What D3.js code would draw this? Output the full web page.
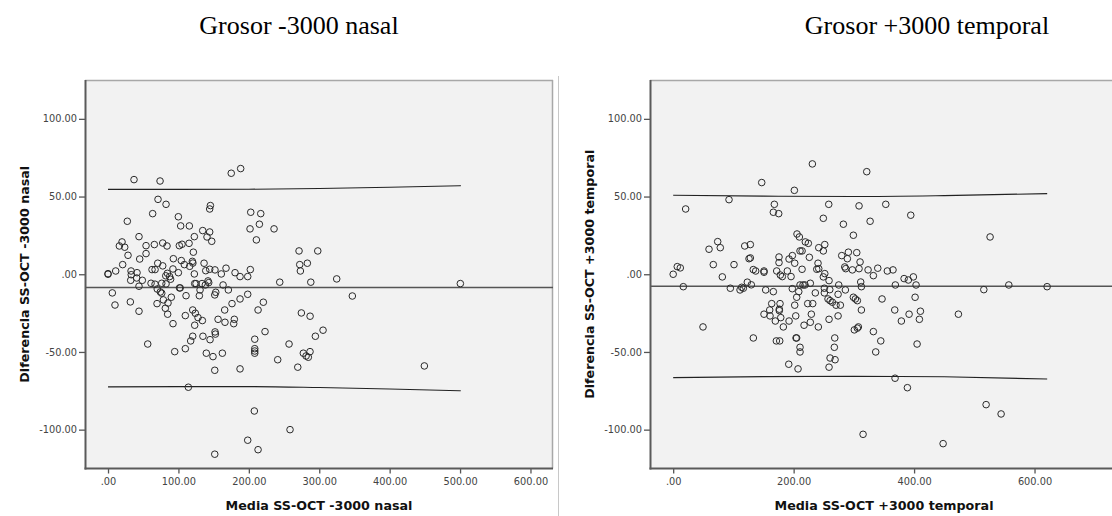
<!DOCTYPE html>
<html><head><meta charset="utf-8">
<script src="https://cdn.jsdelivr.net/npm/d3@7"></script>
<style>body{margin:0;background:#fff}svg{display:block}</style>
</head><body>
<svg id="c" width="1112" height="516"></svg>
<script>
// ---------- DATA ----------
const panelTitles = ["Grosor -3000 nasal", "Grosor +3000 temporal"];
const xAxisTitles = ["Media SS-OCT -3000 nasal", "Media SS-OCT +3000 temporal"];
const yAxisTitles = ["Diferencia SS-OCT -3000 nasal", "Diferencia SS-OCT +3000 temporal"];

const yTicks = [-100, -50, 0, 50, 100];
const yTickLabels = ["-100.00", "-50.00", ".00", "50.00", "100.00"];
const xTicksNasal = [0, 100, 200, 300, 400, 500, 600];
const xTickLabelsNasal = [".00", "100.00", "200.00", "300.00", "400.00", "500.00", "600.00"];
const xTicksTemporal = [0, 200, 400, 600];
const xTickLabelsTemporal = [".00", "200.00", "400.00", "600.00"];

// Nasal: [media, diferencia]
const nasalPoints = [
[36.9,60.9],[73.9,60],[175,65],[188.4,68],[71,48.2],[82.4,45],[63.4,39],[99.9,37],[145.4,44.2],[144.4,42],
[202.7,39.9],[216.9,39],[27.4,34.1],[103.2,31.1],[115.5,31.1],[215,32.2],[201.7,29.2],[235.8,29.2],[134.5,28.1],[144.4,27.2],
[140.6,24],[147.3,21.2],[210.7,22.1],[44,24.2],[122.6,24.2],[19.9,20.8],[16.1,18.2],[23.7,17.4],[54,18.4],[65.8,19.1],
[77.7,20.1],[83.8,18.2],[101.3,18.4],[105.1,19.3],[115.1,19.9],[28.4,12.2],[54,13.3],[121.2,14.2],[45,9.8],[92.8,10],
[104.1,8.8],[119.8,8.3],[120.5,7.2],[20.8,6.2],[70.6,7.1],[77.7,5.4],[108.4,6.2],[116,5.1],[136.4,7.1],[271.3,15],
[272.3,6.2],[283.1,7.1],[273.2,2.1],[202.1,3],[62.5,3],[66.8,3],[0,0.4],[0,0],[10.9,2.1],[32.7,2.1],
[41.2,1],[33,-0.3],[84.3,0.6],[99.9,1],[122.6,0.2],[138.8,2.3],[144.4,3.2],[151.9,2.8],[160.9,0.2],[167.6,3.9],
[180.4,1],[187.5,-1.5],[198.4,-1.5],[92.2,3.4],[297.9,15],[82,-1],
[32.2,-3.9],[44,-7.7],[48.7,-3.9],[40.7,-2.4],[6.1,-12],[9.9,-19.8],[31.7,-17.8],[44,-23.8],[61.1,-5.8],[66.8,-6.4],
[69.9,-9.5],[74.3,-11.4],[76.3,-5.8],[82.4,-6.2],[69.6,-18.9],[76.3,-12.2],[78.6,-16.5],[85.2,-18.5],[81.4,-21.9],[84.7,-25.7],
[89.9,-14.8],[92.3,-31.8],[87.5,-1.5],[88.9,-3.2],[101.5,-8.8],[102.5,-8.8],[110.8,-13.8],[109.8,-26.6],[94.7,-49.8],[109.8,-47.9],
[56.4,-44.9],[117.4,-42.9],[120.3,-39.9],[123.1,-32.8],[120.3,-23],[124,-25.1],[127.8,-27.9],[134,-29.8],[134.8,-39.9],[123.1,-6],
[125,-6],[130.7,-10.1],[129.7,-13.8],[133.5,-6],[138.2,-6.9],[142,-4.3],[143,-5.4],[151.6,-13.3],[153,-11.6],[144.9,-42.1],
[152,-37.1],[152.5,-38.5],[156.3,-29],[139.6,-50.8],[149.1,-53],[162.4,-50.8],[151.6,-61.8],[165.7,-23],[166.1,-30.9],[163.4,-6.9],
[170.9,-10.1],[176.1,-18.9],[179.4,-29],[178.5,-31.8],[187.5,-15.9],[187.5,-60.9],[198.4,-12.9],[114.1,-72.7],[208.4,-41.8],[208.4,-47.9],
[208.4,-49.4],[208.4,-50.8],[213.1,-23],[220.6,-18],[223,-36.9],[207.8,-88],[198.4,-106.8],[213.1,-112.9],[151.6,-115.8],[258.5,-100],
[243.9,-5.1],[241,-55],[257.1,-44.9],[269.5,-59.8],[274.6,-24.9],[287,-27],[277.4,-50.8],[281.3,-52.6],[284.5,-53.4],[286.9,-49.8],
[288,-5.1],[324.8,-3],[500.4,-6],[347,-14],[294.5,-39.9],[305.4,-36],[449.3,-59]
];
const nasalMean = -8.6;
const nasalFitX = [0, 100, 200, 300, 400, 501];
const nasalUpper = [54.6, 54.6, 54.7, 55.2, 56.0, 57.0];
const nasalLower = [-72.5, -72.3, -72.3, -72.9, -73.8, -75.0];

// Temporal: [media, diferencia]
const temporalPoints = [
[231.1,71],[321.4,66],[147,59],[201.2,54],[92.7,48],[20.7,42],[168,45],[166.3,39.9],[175.2,39],[258.3,45],
[308.6,44],[249.3,36],[282.6,32.2],[299.2,25.1],[327,34.1],[205.6,25.9],[209.5,24],[219.4,20.8],[224.4,19.9],[251.7,19.1],
[241.7,17.1],[249.3,15],[210.6,15],[214,15],[73.9,21],[59.5,16.1],[78.2,17.1],[118.8,18.2],[128.1,19.1],[125.9,10],
[128.1,10.5],[66.6,6.2],[101,6.2],[0,0],[6.8,4.9],[11.8,4.1],[81.6,-1.7],[133,3],[137,2.1],[150.8,2.1],
[150.8,1.3],[175.7,11.1],[175.7,7.5],[192.4,9.8],[197.9,12],[201.8,7.1],[214,3.2],[226.1,10.9],[171.9,2.1],[177.9,-0.5],
[181.2,-1.5],[189.5,2.1],[195.7,-1.5],[238.4,3.2],[240.5,7.1],[241.7,3.6],[251.7,0.4],[249.3,-1.7],[279.9,12],[290.9,14.2],
[289.2,10],[304.8,13.9],[310.3,7.9],[308.6,3.6],[284.9,4.7],[286.5,3.6],[297.5,2.8],[323.6,2.8],
[353,45],[394.5,38],[526.2,24],[332.4,-0.9],[339.7,3.9],[355.6,2.1],[365,2.8],[383.4,-2.8],[390.5,-3.7],[398.8,-1.7],
[16.8,-8],[49.5,-33.9],[94.9,-9],[111,-10.1],[113.8,-8.4],[116.5,-9],[123.1,-5.1],[129.7,-6.8],[133.1,-41],[153.6,-10.1],
[166.3,-11.2],[163.6,-18.9],[160.3,-23],[150.8,-25.7],[160.8,-26.8],[169.6,-30.1],[176.2,-22.5],[177.4,-18.9],[176.2,-23.4],[178.6,-27.9],
[182.9,-33.9],[171.3,-42.9],[176.9,-42.9],[192.4,-30.1],[191.9,-57.9],[197.8,-9.3],[201.8,-19.9],[203.5,-26.8],[205.1,-14.8],[208.5,-11.2],
[207.3,-60.9],[210.6,-6.9],[215.6,-6.9],[218.9,-6.9],[204,-41],[205,-41],[210.6,-47],[210.6,-50],[217.3,-32.8],[223.4,-18.9],
[231.7,-18.9],[227.7,-5.8],[229.4,-25.7],[227.7,-30.9],[236,-12],[241,-33.9],[251,-9],[251,-12],[258.8,-4.1],[258.8,-29],
[260,-9.9],[257.1,-15.9],[260.5,-17],[264.3,-18],[270.4,-19.9],[277.6,-19.9],[273.8,-12.9],[274.9,-6.9],[273.8,-26.8],[285.9,-10.1],
[268.3,-41],[267.6,-47],[260.5,-53.9],[268.8,-55],[258.8,-59.8],[299.2,-14.8],[302.5,-15.9],[305.8,-17],[312.5,-23],[300.8,-35.8],
[305.8,-34.7],[307.5,-33.9],[311.4,-5],[312.5,-8],[332.4,-36.9],[336.3,-50],[344.7,-42.9],[346.8,-15.9],[367.9,-23],[368.4,-66.9],
[368.9,-6.9],[378.9,-30.1],[388.9,-73],[391.7,-25.7],[403.3,-6.9],[401.7,-14.8],[405,-44.9],[408.8,-29],[410.5,-23.8],[473.6,-25.7],
[448.2,-109],[315.3,-103],[515.8,-9.9],[519.6,-83.9],[544.5,-89.9],[557.3,-6.9],[620.9,-8]
];
const temporalMean = -7.7;
const temporalFitX = [0, 150, 300, 450, 621];
const temporalUpper = [50.8, 50.3, 50.0, 50.6, 51.9];
const temporalLower = [-66.5, -65.9, -65.6, -66.0, -67.4];

// ---------- DRAW ----------
const svg = d3.select("#c");
const SANS = "'DejaVu Sans', Verdana, sans-serif";

svg.append("line").attr("x1", 558.5).attr("x2", 558.5).attr("y1", 76).attr("y2", 516)
  .attr("stroke", "#c8c8c8").attr("stroke-width", 1);

const panels = [
  {title: panelTitles[0], titleX: 299, xt: xAxisTitles[0], yt: yAxisTitles[0], ytX: 25,
   left: 85, right: 553, xDomain: [-32.7, 632], pts: nasalPoints, mean: nasalMean,
   fitX: nasalFitX, up: nasalUpper, lo: nasalLower, xTicks: xTicksNasal, xLabels: xTickLabelsNasal},
  {title: panelTitles[1], titleX: 927, xt: xAxisTitles[1], yt: yAxisTitles[1], ytX: 590,
   left: 650, right: 1118, xDomain: [-38.5, 738.6], pts: temporalPoints, mean: temporalMean,
   fitX: temporalFitX, up: temporalUpper, lo: temporalLower, xTicks: xTicksTemporal, xLabels: xTickLabelsTemporal}
];
const plotTop = 80, plotBottom = 468.5;

panels.forEach(p => {
  const x = d3.scaleLinear().domain(p.xDomain).range([p.left, p.right]);
  const y = d3.scaleLinear().domain([-125, 125]).range([plotBottom, plotTop]);
  const g = svg.append("g");

  svg.append("text").attr("x", p.titleX).attr("y", 34).attr("text-anchor", "middle")
    .attr("font-family", "'Liberation Serif', 'Times New Roman', serif").attr("font-size", 26)
    .attr("fill", "#000").text(p.title);

  g.append("rect").attr("x", p.left).attr("y", plotTop).attr("width", p.right - p.left).attr("height", plotBottom - plotTop)
    .attr("fill", "#f2f2f2");
  g.append("line").attr("x1", p.left).attr("x2", p.right).attr("y1", plotTop + 0.5).attr("y2", plotTop + 0.5)
    .attr("stroke", "#a8a8a8").attr("stroke-width", 1.5);
  g.append("line").attr("x1", p.right - 0.5).attr("x2", p.right - 0.5).attr("y1", plotTop).attr("y2", plotBottom)
    .attr("stroke", "#a8a8a8").attr("stroke-width", 1.5);

  // mean line
  g.append("line").attr("x1", p.left).attr("x2", p.right).attr("y1", y(p.mean)).attr("y2", y(p.mean))
    .attr("stroke", "#555").attr("stroke-width", 1.5);
  const line = d3.line().x(d => x(d[0])).y(d => y(d[1])).curve(d3.curveMonotoneX);
  [p.up, p.lo].forEach(arr => {
    g.append("path").attr("d", line(p.fitX.map((v, i) => [v, arr[i]])))
      .attr("fill", "none").attr("stroke", "#222").attr("stroke-width", 1.1);
  });

  g.selectAll("circle.pt").data(p.pts).join("circle").attr("class", "pt")
    .attr("cx", d => x(d[0])).attr("cy", d => y(d[1])).attr("r", 3.3)
    .attr("fill", "none").attr("stroke", "#2a2a2a").attr("stroke-width", 1);

  // axes
  const ya = d3.axisLeft(y).tickValues(yTicks).tickSize(6).tickPadding(2)
    .tickFormat((d, i) => yTickLabels[i]);
  const yg = g.append("g").attr("transform", `translate(${p.left},0)`).call(ya);
  yg.select(".domain").remove();
  g.append("line").attr("x1", p.left + 0.5).attr("x2", p.left + 0.5).attr("y1", plotTop).attr("y2", plotBottom + 1)
    .attr("stroke", "#5a5a5a").attr("stroke-width", 2);

  const xa = d3.axisBottom(x).tickValues(p.xTicks).tickSize(5).tickPadding(5)
    .tickFormat((d, i) => p.xLabels[i]);
  const xg = g.append("g").attr("transform", `translate(0,${plotBottom})`).call(xa);
  xg.select(".domain").remove();
  g.append("line").attr("x1", p.left - 0.5).attr("x2", p.right).attr("y1", plotBottom).attr("y2", plotBottom)
    .attr("stroke", "#5a5a5a").attr("stroke-width", 2);

  [yg, xg].forEach(a => {
    a.selectAll(".tick line").attr("stroke", "#555").attr("stroke-width", 1.3);
    a.selectAll(".tick text").attr("font-family", SANS).attr("font-size", 9.8).attr("fill", "#444");
  });

  svg.append("text").attr("x", (p.left + p.right) / 2).attr("y", 510).attr("text-anchor", "middle")
    .attr("font-family", SANS).attr("font-weight", "bold").attr("font-size", 12.7).attr("fill", "#111")
    .text(p.xt);
  svg.append("text").attr("transform", `translate(${p.ytX},${(plotTop + plotBottom) / 2}) rotate(-90)`)
    .attr("text-anchor", "middle").attr("dy", "0.35em")
    .attr("font-family", SANS).attr("font-weight", "bold").attr("font-size", 12.7).attr("fill", "#111")
    .text(p.yt);
});
</script>
</body></html>
